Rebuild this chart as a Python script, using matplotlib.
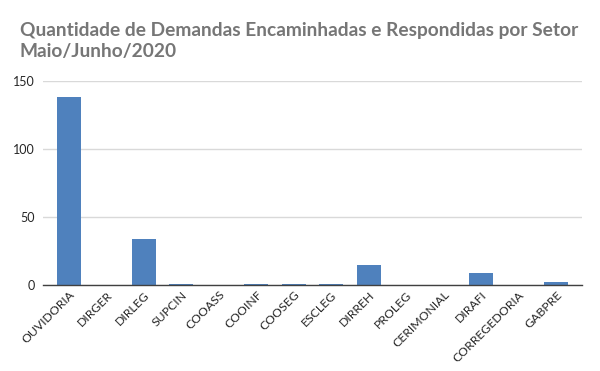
import matplotlib
matplotlib.use("Agg")
import matplotlib.pyplot as plt

setores = ["OUVIDORIA", "DIRGER", "DIRLEG", "SUPCIN", "COOASS", "COOINF", "COOSEG",
           "ESCLEG", "DIRREH", "PROLEG", "CERIMONIAL", "DIRAFI", "CORREGEDORIA", "GABPRE"]
demandas = [138, 0, 34, 1, 0, 1, 1, 1, 15, 0, 0, 9, 0, 2]
yticks = [0, 50, 100, 150]

plt.rcParams['font.family'] = ['Lato', 'DejaVu Sans']

fig = plt.figure(figsize=(6.0, 3.71), dpi=100)
ax = fig.add_axes([0.0717, 0.232, 0.8983, 0.5497])

x = list(range(len(setores)))
ax.bar(x, demandas, width=0.64, color="#4f81bd", zorder=3)
ax.set_xlim(-0.69, len(setores) - 0.31)
ax.set_ylim(0, 150)
ax.set_yticks(yticks)
ax.set_yticklabels([str(v) for v in yticks], fontsize=9, color="#262626")
ax.yaxis.grid(True, color="#d9d9d9", linewidth=1, zorder=0)
ax.tick_params(axis='y', length=0, pad=6)
ax.tick_params(axis='x', length=0, pad=3)
ax.set_xticks(x)
ax.set_xticklabels(setores, rotation=45, ha='right', rotation_mode='anchor',
                   fontsize=8.8, color="#262626")
for s in ['top', 'right', 'left']:
    ax.spines[s].set_visible(False)
ax.spines['bottom'].set_color("#404040")
ax.spines['bottom'].set_linewidth(1)
ax.spines['bottom'].set_zorder(4)

fig.text(0.033, 0.94, "Quantidade de Demandas Encaminhadas e Respondidas por Setor\nMaio/Junho/2020",
         fontsize=13.8, fontweight='bold', color="#767676", ha='left', va='top',
         linespacing=1.25)

fig.savefig("out.png", dpi=100)
